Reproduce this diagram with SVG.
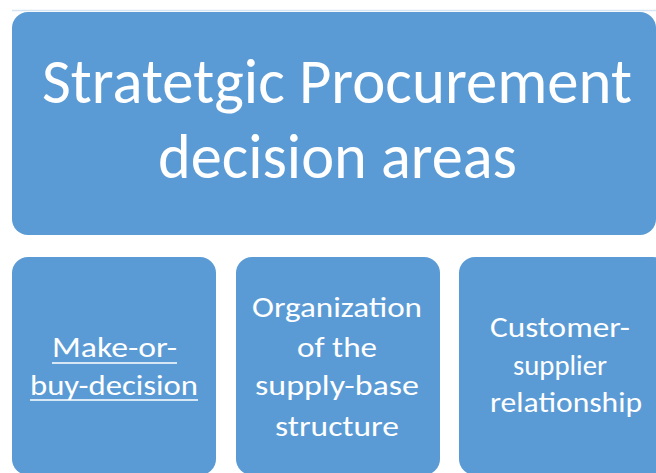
<svg xmlns="http://www.w3.org/2000/svg" width="656" height="473" viewBox="0 0 656 473">
<style>
.box{fill:#5B9BD5;}
.t{font-family:Carlito,"Open Sans","Liberation Sans",sans-serif;fill:#ffffff;text-anchor:middle;}
.big{font-size:63px;}
.small{font-size:29.5px;}
</style>
<rect x="0" y="0" width="656" height="473" fill="#ffffff"/>
<line x1="12" y1="10.5" x2="656" y2="10.5" stroke="#d6e5f3" stroke-width="1.5"/>
<g id="title">
<rect class="box" x="12" y="12" width="644" height="223" rx="16"/>
<text class="t big" x="337" y="103" textLength="590" lengthAdjust="spacingAndGlyphs">Stratetgic Procurement</text>
<text class="t big" x="337.5" y="178" textLength="359" lengthAdjust="spacingAndGlyphs">decision areas</text>
</g>
<g id="make-or-buy">
<rect class="box" x="12" y="257" width="204" height="218" rx="16"/>
<text class="t small" x="114.5" y="357" textLength="125" lengthAdjust="spacingAndGlyphs">Make-or-</text>
<text class="t small" x="114" y="395" textLength="168" lengthAdjust="spacingAndGlyphs">buy-decision</text>
<line x1="52" y1="363" x2="177" y2="363" stroke="#ffffff" stroke-width="1.5"/>
<line x1="30" y1="400" x2="198" y2="400" stroke="#ffffff" stroke-width="1.5"/>
</g>
<g id="supply-base">
<rect class="box" x="236" y="257" width="204" height="218" rx="16"/>
<text class="t small" x="337" y="317" textLength="170" lengthAdjust="spacingAndGlyphs">Organization</text>
<text class="t small" x="337" y="357" textLength="80" lengthAdjust="spacingAndGlyphs">of the</text>
<text class="t small" x="337" y="395" textLength="164" lengthAdjust="spacingAndGlyphs">supply-base</text>
<text class="t small" x="337" y="436" textLength="124" lengthAdjust="spacingAndGlyphs">structure</text>
</g>
<g id="customer-supplier">
<rect class="box" x="459" y="257" width="210" height="218" rx="16"/>
<text class="t small" x="560" y="337" textLength="140" lengthAdjust="spacingAndGlyphs">Customer-</text>
<text class="t small" x="560" y="375" textLength="94" lengthAdjust="spacingAndGlyphs">supplier</text>
<text class="t small" x="566" y="412" textLength="152" lengthAdjust="spacingAndGlyphs">relationship</text>
</g>
<g id="connectors"></g>
</svg>
